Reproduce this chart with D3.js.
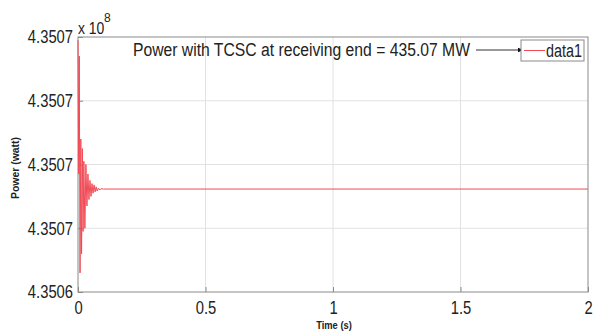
<!DOCTYPE html>
<html>
<head>
<meta charset="utf-8">
<script src="https://cdn.jsdelivr.net/npm/d3@7"></script>
<style>
  body { margin: 0; background: #fff; }
  svg { display: block; }
  text { font-family: "Liberation Sans", Arial, sans-serif; fill: #222; }
</style>
</head>
<body>
<div id="chart"></div>
<script>
// time (s) and power (x 1e8 W)
var times  = [0, 0.003, 0.005, 0.008, 0.011, 0.014, 0.017, 0.020, 0.023, 0.027,
              0.031, 0.035, 0.039, 0.043, 0.047, 0.051, 0.055, 0.059, 0.063, 0.067,
              0.071, 0.075, 0.080, 0.085, 0.090, 0.100, 2.0];
var power  = [4.3507190, 4.3506770, 4.3507140, 4.3506460, 4.3506880, 4.3506520, 4.3506850, 4.3506590, 4.3506810, 4.3506600,
              4.3506800, 4.3506670, 4.3506770, 4.3506690, 4.3506750, 4.3506700, 4.3506740, 4.3506710, 4.3506736, 4.3506714,
              4.3506730, 4.3506717, 4.3506726, 4.3506720, 4.3506724, 4.3506723, 4.3506723];

var xTicks = [0, 0.5, 1, 1.5, 2];
var yTicks = [4.35064, 4.35066, 4.35068, 4.35070, 4.35072];
var yTickLabels = ["4.3506", "4.3507", "4.3507", "4.3507", "4.3507"];

var width = 596, height = 334;
var margin = { top: 37, right: 8, bottom: 42, left: 78 };

// squeeze text horizontally, the original font is a narrow one
function narrow(sel, k) {
	sel.each(function() {
		var w = this.getComputedTextLength();
		d3.select(this)
			.attr("textLength", w * k)
			.attr("lengthAdjust", "spacingAndGlyphs");
	});
}

var svg = d3.select("#chart")
	.append("svg")
	.attr("width", width)
	.attr("height", height);

var x = d3.scaleLinear().domain([0, 2]).range([margin.left, width - margin.right]);
var y = d3.scaleLinear().domain([4.35064, 4.35072]).range([height - margin.bottom, margin.top]);

var x0 = x.range()[0], x1 = x.range()[1], y0 = y.range()[0], y1 = y.range()[1];

// grid
svg.append("g")
	.selectAll("line")
	.data(xTicks.slice(1, -1))
	.enter().append("line")
	.attr("x1", function(d) { return x(d); })
	.attr("x2", function(d) { return x(d); })
	.attr("y1", y1).attr("y2", y0)
	.attr("stroke", "#e2e2e2");

svg.append("g")
	.selectAll("line")
	.data(yTicks.slice(1, -1))
	.enter().append("line")
	.attr("x1", x0).attr("x2", x1)
	.attr("y1", function(d) { return y(d); })
	.attr("y2", function(d) { return y(d); })
	.attr("stroke", "#e2e2e2");

// axes (ticks inside, like matlab)
var xAxis = d3.axisBottom(x).tickValues(xTicks).tickSize(-5).tickPadding(11)
	.tickFormat(d3.format(""));
var yAxis = d3.axisLeft(y).tickValues(yTicks).tickSize(-5).tickPadding(5)
	.tickFormat(function(d, i) { return yTickLabels[i]; });

var gx = svg.append("g").attr("transform", "translate(0," + y0 + ")").call(xAxis);
var gy = svg.append("g").attr("transform", "translate(" + x0 + ",0)").call(yAxis);

[gx, gy].forEach(function(g) {
	g.select(".domain").remove();
	g.selectAll(".tick line").attr("stroke", "#8a8a8a");
	g.selectAll(".tick text").attr("font-size", 18).attr("fill", "#222")
		.style("font-family", '"Liberation Sans", Arial, sans-serif');
	narrow(g.selectAll(".tick text"), 0.82);
});
gx.selectAll(".tick text").attr("dy", "0.6em");

// frame
svg.append("rect")
	.attr("x", x0).attr("y", y1)
	.attr("width", x1 - x0).attr("height", y0 - y1)
	.attr("fill", "none")
	.attr("stroke", "#8a8a8a");

// exponent
svg.append("text").attr("x", x0).attr("y", 34).attr("font-size", 17)
	.text("x 10").call(narrow, 0.82);
svg.append("text").attr("x", 104).attr("y", 22).attr("font-size", 12)
	.text("8");

// signal
var line = d3.line()
	.x(function(d, i) { return x(times[i]); })
	.y(function(d) { return y(d); });

svg.append("path")
	.datum(power)
	.attr("d", line)
	.attr("fill", "none")
	.attr("stroke", "#f04a55")
	.attr("stroke-width", 1);

// annotation
svg.append("text")
	.attr("x", 133).attr("y", 56)
	.attr("font-size", 18)
	.text("Power with TCSC at receiving end = 435.07 MW")
	.attr("textLength", 337)
	.attr("lengthAdjust", "spacingAndGlyphs");

svg.append("defs").append("marker")
	.attr("id", "arr")
	.attr("viewBox", "0 0 10 10")
	.attr("refX", 9).attr("refY", 5)
	.attr("markerWidth", 6).attr("markerHeight", 6)
	.attr("orient", "auto")
	.append("path")
	.attr("d", "M0,1L10,5L0,9Z")
	.attr("fill", "#111");

svg.append("line")
	.attr("x1", 476).attr("x2", 523)
	.attr("y1", 50).attr("y2", 50)
	.attr("stroke", "#333")
	.attr("stroke-width", 1)
	.attr("marker-end", "url(#arr)");

// legend
var lg = svg.append("g").attr("transform", "translate(521,40)");
lg.append("rect")
	.attr("width", 63).attr("height", 21)
	.attr("fill", "#fff")
	.attr("stroke", "#8a8a8a");
lg.append("line")
	.attr("x1", 3).attr("x2", 24)
	.attr("y1", 10.5).attr("y2", 10.5)
	.attr("stroke", "#f04a55");
lg.append("text")
	.attr("x", 25).attr("y", 17)
	.attr("font-size", 18)
	.text("data1")
	.attr("textLength", 36)
	.attr("lengthAdjust", "spacingAndGlyphs");

// axis labels
svg.append("text")
	.attr("x", 334).attr("y", 329)
	.attr("text-anchor", "middle")
	.attr("font-size", 11)
	.attr("font-weight", "bold")
	.text("Time (s)")
	.call(narrow, 0.85);

svg.append("text")
	.attr("transform", "translate(19,168) rotate(-90)")
	.attr("text-anchor", "middle")
	.attr("font-size", 11)
	.attr("font-weight", "bold")
	.text("Power (watt)")
	.call(narrow, 0.95);
</script>
</body>
</html>
